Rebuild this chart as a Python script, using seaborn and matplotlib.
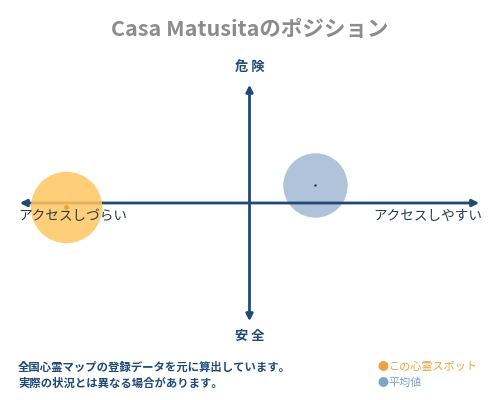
import matplotlib
matplotlib.use("Agg")
import matplotlib.pyplot as plt
import seaborn as sns
import pandas as pd

# positions on the map: x = access (hard -> easy), y = danger (safe -> dangerous)
labels = ["この心霊スポット", "平均値"]
access = [-0.79, 0.28]
danger = [-0.03, 0.15]

title = "Casa Matusitaのポジション"
axis_top, axis_bottom = "危 険", "安 全"
axis_left, axis_right = "アクセスしづらい", "アクセスしやすい"
notes = ["全国心霊マップの登録データを元に算出しています。",
         "実際の状況とは異なる場合があります。"]

NAVY = "#1f4a78"
fill_colors = ["#ffc660", "#afc3db"]
fill_alpha = [0.85, 1.0]
circle_sizes = [2650, 2150]
circle_z = [3, 1]
dot_colors = ["#f0a030", "#1f3550"]
dot_sizes = [12, 3]
legend_colors = ["#f0a040", "#7ea4c8"]

sns.set_style("white")
plt.rcParams['font.family'] = ['Noto Sans CJK JP', 'DejaVu Sans']

df = pd.DataFrame({"label": labels, "access": access, "danger": danger})

fig = plt.figure(figsize=(5, 4), dpi=100)
ax = fig.add_axes([17 / 500, 1 - 324 / 400, 465 / 500, 242 / 400])
ax.set_xlim(-1, 1)
ax.set_ylim(-1, 1)
ax.axis("off")

# axes with arrows
ax.annotate("", xy=(-1, 0), xytext=(1, 0), zorder=2,
            arrowprops=dict(arrowstyle="<|-|>", color=NAVY, lw=2, mutation_scale=10))
ax.annotate("", xy=(0, 1), xytext=(0, -1), zorder=2,
            arrowprops=dict(arrowstyle="<|-|>", color=NAVY, lw=2, mutation_scale=10))

# big circles, one per row so the average sits under the axis line
for i in range(len(df)):
    sns.scatterplot(data=df.iloc[[i]], x="access", y="danger", color=fill_colors[i],
                    s=circle_sizes[i], alpha=fill_alpha[i], linewidth=0,
                    legend=False, ax=ax, zorder=circle_z[i])
    sns.scatterplot(data=df.iloc[[i]], x="access", y="danger", color=dot_colors[i],
                    s=dot_sizes[i], linewidth=0, legend=False, ax=ax, zorder=4)

fig.text(0.5, 1 - 30 / 400, title, ha="center", va="center", fontsize=15.5,
         color="#8c8c8c", fontweight="bold")
fig.text(0.5, 1 - 67 / 400, axis_top, ha="center", va="center", fontsize=9.5,
         color=NAVY, fontweight="bold")
fig.text(0.5, 1 - 336 / 400, axis_bottom, ha="center", va="center", fontsize=9.5,
         color=NAVY, fontweight="bold")
fig.text(18 / 500, 1 - 216 / 400, axis_left, ha="left", va="center", fontsize=9.8,
         color="#2a3a4a", zorder=5)
fig.text(482 / 500, 1 - 216 / 400, axis_right, ha="right", va="center", fontsize=9.8,
         color="#2a3a4a")

for i, line in enumerate(notes):
    fig.text(18 / 500, 1 - (367 + 16 * i) / 400, line, ha="left", va="center",
             fontsize=8.2, color=NAVY, fontweight="bold")

for i, lab in enumerate(labels):
    y = 1 - (367 + 16 * i) / 400
    fig.text(377 / 500, y, "●", ha="left", va="center", fontsize=8,
             color=legend_colors[i])
    fig.text(388 / 500, y, lab, ha="left", va="center", fontsize=8,
             color=legend_colors[i])

fig.savefig("out.png", dpi=100)
